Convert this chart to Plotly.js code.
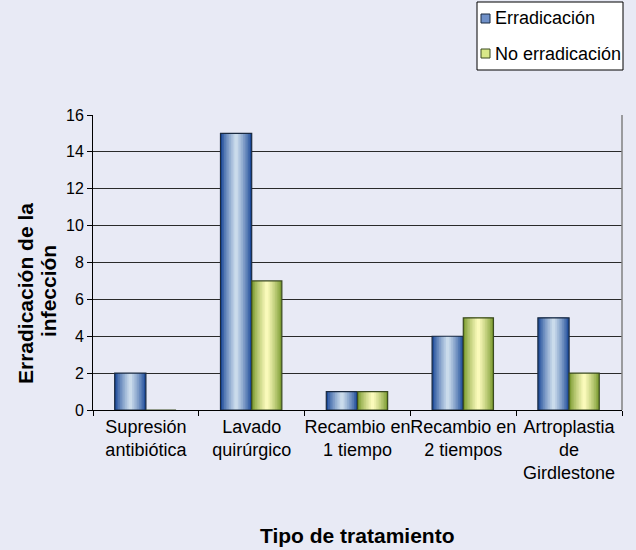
<!DOCTYPE html>
<html>
<head>
<meta charset="utf-8">
<script src="https://cdn.plot.ly/plotly-3.0.1.min.js"></script>
<style>html,body{margin:0;padding:0;background:#E8EAF5;}#chart{width:636px;height:550px;}</style>
</head>
<body>
<div id="chart"></div>
<script>
const categories = ["Supresión<br>antibiótica", "Lavado<br>quirúrgico", "Recambio en<br>1 tiempo", "Recambio en<br>2 tiempos", "Artroplastia<br>de<br>Girdlestone"];
const erradicacion = [2, 15, 1, 4, 5];
const noErradicacion = [0, 7, 1, 5, 2];
const seriesNames = ["Erradicación", "No erradicación"];
const xTitle = "Tipo de tratamiento";
const yTitleLines = ["Erradicación de la", "infección"];

const FONT = "Liberation Sans, Arial, sans-serif";
const L = 93, R = 622, T = 115, B = 410;
const px2x = p => (p - L) / (R - L);
const px2y = p => (B - p) / (B - T);

function lerp(c1, c2, t) {
  const a = [1,3,5].map(i => parseInt(c1.substr(i,2),16));
  const b = [1,3,5].map(i => parseInt(c2.substr(i,2),16));
  return "rgb(" + a.map((v,i) => Math.round(v + (b[i]-v)*t)).join(",") + ")";
}

const traces = [];
function addSeries(y, name, edge, center, baseOffset, W, lineColor) {
  const n = 9;
  for (let k = 0; k < n; k++) {
    const w = W * (1 - k / n);
    traces.push({
      type: "bar", x: categories, y: y, name: name,
      width: w, offset: baseOffset + (W - w) / 2,
      marker: {color: lerp(edge, center, Math.pow(k / (n - 1), 0.8)), line: {width: 0}},
      showlegend: false, hoverinfo: "skip"
    });
  }
  traces.push({
    type: "bar", x: categories, y: y, name: name,
    width: W, offset: baseOffset,
    marker: {color: "rgba(0,0,0,0)", line: {width: 1.2, color: lineColor}},
    showlegend: false
  });
}
addSeries(erradicacion, seriesNames[0], "#1C4A98", "#CADBEB", -0.295, 0.295, "#1a2a40");
addSeries(noErradicacion, seriesNames[1], "#7A9A30", "#FAFABA", 0.0, 0.285, "#3a4a20");

const legendShapes = [
  {type: "rect", xref: "paper", yref: "paper", x0: px2x(477), x1: px2x(623), y0: px2y(70), y1: px2y(2),
   fillcolor: "#FFFFFF", line: {color: "#000", width: 1}},
  {type: "rect", xref: "paper", yref: "paper", x0: px2x(481), x1: px2x(490), y0: px2y(23), y1: px2y(14),
   fillcolor: "#6F90C8", line: {color: "#1a2a40", width: 1}},
  {type: "rect", xref: "paper", yref: "paper", x0: px2x(481), x1: px2x(490), y0: px2y(58), y1: px2y(49),
   fillcolor: "#D8E888", line: {color: "#3a4a20", width: 1}}
];
const annotations = [
  {xref: "paper", yref: "paper", x: px2x(493), y: px2y(18.5), xanchor: "left", yanchor: "middle",
   text: seriesNames[0], showarrow: false, font: {size: 18, color: "#000", family: FONT}},
  {xref: "paper", yref: "paper", x: px2x(493), y: px2y(53.5), xanchor: "left", yanchor: "middle",
   text: seriesNames[1], showarrow: false, font: {size: 18, color: "#000", family: FONT}},
  {xref: "paper", yref: "paper", x: px2x(357), y: px2y(535), xanchor: "center", yanchor: "middle",
   text: "<b>" + xTitle + "</b>", showarrow: false, font: {size: 21, color: "#000", family: FONT}},
  {xref: "paper", yref: "paper", x: px2x(25), y: px2y(294), xanchor: "center", yanchor: "middle", textangle: -90,
   text: "<b>" + yTitleLines[0] + "</b>", showarrow: false, font: {size: 21, color: "#000", family: FONT}},
  {xref: "paper", yref: "paper", x: px2x(48), y: px2y(291), xanchor: "center", yanchor: "middle", textangle: -90,
   text: "<b>" + yTitleLines[1] + "</b>", showarrow: false, font: {size: 21, color: "#000", family: FONT}}
];

const layout = {
  width: 636, height: 550,
  paper_bgcolor: "#E8EAF5", plot_bgcolor: "#E8EAF5",
  margin: {l: L, r: 636 - R, t: T, b: 550 - B},
  barmode: "overlay",
  showlegend: false,
  font: {family: FONT, color: "#000"},
  xaxis: {
    type: "category",
    tickson: "boundaries",
    tickangle: 0,
    ticks: "outside", ticklen: 5, tickcolor: "#000",
    showline: true, linecolor: "#000", linewidth: 1,
    showgrid: false,
    tickfont: {size: 18, color: "#000"},
    fixedrange: true
  },
  yaxis: {
    range: [0, 16], dtick: 2,
    ticks: "outside", ticklen: 5, tickcolor: "#000",
    showline: true, linecolor: "#000", linewidth: 1,
    showgrid: true, gridcolor: "#2a2a2a", gridwidth: 1,
    zeroline: false,
    tickfont: {size: 16, color: "#000"},
    fixedrange: true
  },
  shapes: [
    {type: "line", xref: "paper", yref: "paper", x0: 1, x1: 1, y0: 0, y1: 1, line: {color: "#808080", width: 1.5}}
  ].concat(legendShapes),
  annotations: annotations
};

Plotly.newPlot("chart", traces, layout, {displayModeBar: false, staticPlot: true});
</script>
</body>
</html>
